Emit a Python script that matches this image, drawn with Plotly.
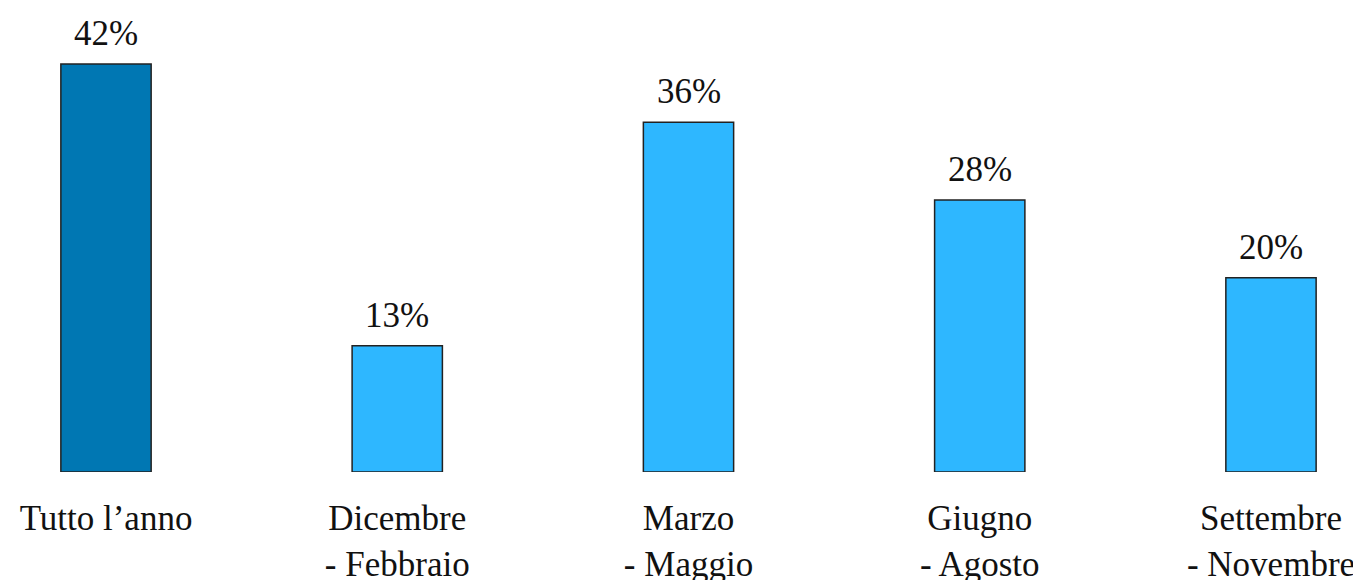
import plotly.graph_objects as go

categories = ["Tutto l’anno", "Dicembre<br>- Febbraio", "Marzo<br>- Maggio",
              "Giugno<br>- Agosto", "Settembre<br>- Novembre"]
values = [42, 13, 36, 28, 20]
labels = [f"{v}%" for v in values]
colors = ["#0077B3", "#2EB7FF", "#2EB7FF", "#2EB7FF", "#2EB7FF"]

FONT = "Liberation Serif"

x = list(range(len(categories)))
fig = go.Figure(go.Bar(
    x=x, y=values, width=0.31,
    marker=dict(color=colors, line=dict(color="#222222", width=1.5)),
    hoverinfo="skip",
))

for xi, v, t in zip(x, values, labels):
    fig.add_annotation(x=xi, y=v, text=t, showarrow=False, yanchor="bottom",
                       yshift=9, font=dict(family=FONT, size=35, color="#111111"))

fig.update_layout(
    width=1361, height=580,
    margin=dict(l=0, r=0, t=0, b=116, autoexpand=False),
    paper_bgcolor="white", plot_bgcolor="white",
    showlegend=False,
    font=dict(family=FONT, size=35, color="#111111"),
)
fig.update_xaxes(range=[-0.3365, 4.3365], tickmode="array", tickvals=x, ticktext=categories,
                 showgrid=False, zeroline=False, showline=False, automargin=False,
                 ticks="outside", ticklen=15, tickcolor="rgba(0,0,0,0)",
                 tickfont=dict(family=FONT, size=35, color="#111111"))
fig.update_yaxes(range=[0, 47.76], visible=False, automargin=False)

fig.write_html("out.html")
